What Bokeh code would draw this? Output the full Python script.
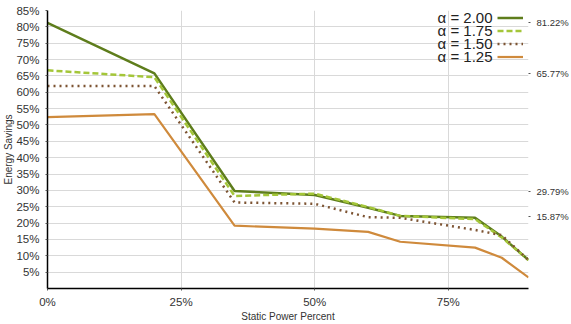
from bokeh.plotting import figure
from bokeh.models import (Range1d, LinearAxis, FixedTicker, PrintfTickFormatter,
                          Legend, LegendItem, Label)
from bokeh.core.properties import value
from bokeh.embed import file_html
from bokeh.resources import INLINE

# ---- data ----
static_pct = [0, 20, 35, 50, 60, 66, 80, 85, 90]
alpha_200 = [81.22, 65.77, 29.79, 28.6, 24.7, 22.2, 21.6, 15.87, 8.7]
alpha_175 = [66.7, 64.6, 28.3, 29.0, 24.9, 22.2, 21.2, 15.6, 8.7]
alpha_150 = [61.9, 61.9, 26.3, 25.9, 21.8, 21.6, 17.9, 16.3, 8.7]
alpha_125 = [52.4, 53.3, 19.2, 18.3, 17.3, 14.3, 12.5, 9.4, 3.4]
series_labels = ["\u03b1 = 2.00", "\u03b1 = 1.75", "\u03b1 = 1.50", "\u03b1 = 1.25"]

x_ticks = [0, 25, 50, 75]
y_ticks = [5, 10, 15, 20, 25, 30, 35, 40, 45, 50, 55, 60, 65, 70, 75, 80, 85]
right_tick_pos = [81.22, 65.77, 29.79, 22.0]
right_tick_labels = ["81.22%", "65.77%", "29.79%", "15.87%"]

FONT = "Liberation Sans"

p = figure(width=571, height=324, output_backend="svg", toolbar_location=None,
           x_range=Range1d(0, 90), y_range=Range1d(0, 85),
           min_border_left=45, min_border_right=39, min_border_top=10,
           min_border_bottom=35)
p.outline_line_color = None
p.background_fill_color = "white"
p.border_fill_color = "white"

# grids
p.xgrid.ticker = FixedTicker(ticks=[25, 50, 75])
p.ygrid.ticker = FixedTicker(ticks=y_ticks)
for g in (p.xgrid, p.ygrid):
    g.grid_line_color = "#d9d9d9"
    g.grid_line_width = 1

# bottom axis
xa = p.xaxis[0]
xa.ticker = FixedTicker(ticks=x_ticks)
xa.formatter = PrintfTickFormatter(format="%d%%")
xa.axis_label = "Static Power Percent"
xa.axis_label_text_font = FONT
xa.axis_label_text_font_size = "10px"
xa.axis_label_text_font_style = "normal"
xa.axis_label_text_color = "#333333"
xa.axis_label_standoff = 0
xa.major_label_text_font = FONT
xa.major_label_text_font_size = "11.5px"
xa.major_label_text_color = "#333333"
xa.major_label_standoff = 5
xa.axis_line_color = "black"
xa.axis_line_width = 1.5
xa.major_tick_out = 2
xa.major_tick_in = 0
xa.major_tick_line_color = "#555555"
xa.minor_tick_out = 0
xa.minor_tick_in = 0

# left axis
ya = p.yaxis[0]
ya.ticker = FixedTicker(ticks=y_ticks)
ya.formatter = PrintfTickFormatter(format="%d%%")
ya.axis_label = "Energy Savings"
ya.axis_label_text_font = FONT
ya.axis_label_text_font_size = "10px"
ya.axis_label_text_font_style = "normal"
ya.axis_label_text_color = "#333333"
ya.axis_label_standoff = -1
ya.major_label_text_font = FONT
ya.major_label_text_font_size = "11.5px"
ya.major_label_text_color = "#333333"
ya.major_label_standoff = 6
ya.axis_line_color = "black"
ya.axis_line_width = 1.5
ya.major_tick_out = 2
ya.major_tick_in = 0
ya.major_tick_line_color = "#555555"
ya.minor_tick_out = 0
ya.minor_tick_in = 0

# right annotation axis
ra = LinearAxis(ticker=FixedTicker(ticks=right_tick_pos),
                major_label_overrides={pos: lab for pos, lab in zip(right_tick_pos, right_tick_labels)})
ra.axis_line_color = None
ra.major_tick_out = 2
ra.major_tick_in = 0
ra.major_tick_line_color = "#555555"
ra.minor_tick_out = 0
ra.minor_tick_in = 0
ra.major_label_standoff = 6
ra.major_label_text_font = FONT
ra.major_label_text_font_size = "9.5px"
ra.major_label_text_color = "#333333"
p.add_layout(ra, "right")

# series
colors = ["#5e7d1c", "#a4c639", "#7d5433", "#cf8a3c"]
r1 = p.line(static_pct, alpha_200, line_color=colors[0], line_width=2.5)
r2 = p.line(static_pct, alpha_175, line_color=colors[1], line_width=2.5, line_dash="6 3")
r3 = p.line(static_pct, alpha_150, line_color=colors[2], line_width=2.5, line_dash="2 4")
r4 = p.line(static_pct, alpha_125, line_color=colors[3], line_width=2.2)
renderers = [r1, r2, r3, r4]

# legend: glyph samples via Legend (no text), texts to their left via Labels
ROW = 13
items = [LegendItem(label=value(""), renderers=[r]) for r in renderers]
legend = Legend(items=items, location=(450, 225.5), orientation="vertical",
                glyph_width=26, glyph_height=ROW, label_standoff=0,
                label_text_font_size="1px", label_height=1, label_width=1,
                spacing=0, padding=0, margin=0,
                border_line_color=None, background_fill_alpha=0)
p.add_layout(legend, "center")

for i, lab in enumerate(series_labels):
    p.add_layout(Label(x=445, y=271 - i * ROW, x_units="screen", y_units="screen",
                       text=lab, text_align="right", text_baseline="middle",
                       text_font=FONT, text_font_size="15px", text_color="#222222"))

open("out.html", "w").write(file_html(p, INLINE))
